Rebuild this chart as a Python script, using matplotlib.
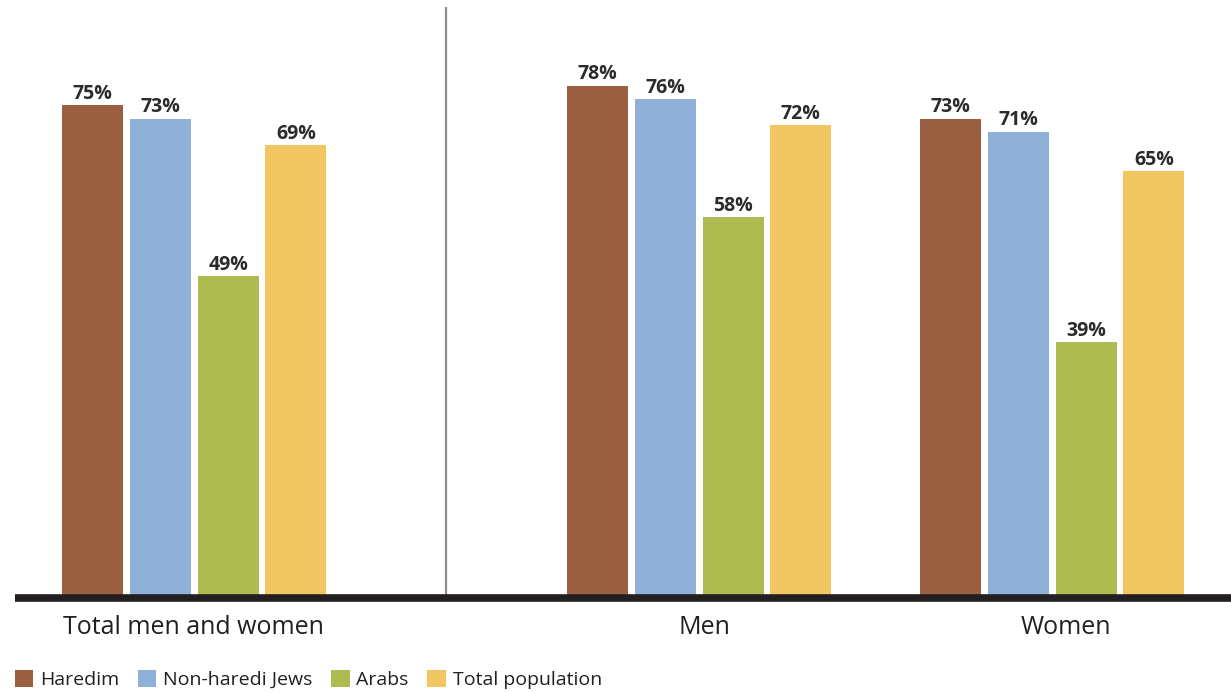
import numpy as np
import matplotlib.pyplot as plt
from matplotlib.patches import Patch

groups = ["Total men and women", "Men", "Women"]
series = ["Haredim", "Non-haredi Jews", "Arabs", "Total population"]
haredim = [75, 78, 73]
non_haredi = [73, 76, 71]
arabs = [49, 58, 39]
total_pop = [69, 72, 65]
colors = ["#9B5F41", "#8FB0D9", "#AEBB50", "#F2C661"]

values = [haredim, non_haredi, arabs, total_pop]

W, H = 1231, 693
fig = plt.figure(figsize=(W / 100, H / 100), dpi=100)
plt.rcParams['font.family'] = ['Open Sans', 'DejaVu Sans']

# axes in pixel-like x units, baseline at y=598
base_y = 598
top_y = 7
ax = fig.add_axes([0, 1 - base_y / H, 1, (base_y - top_y) / H])
ax.set_xlim(0, W)
ax.set_ylim(0, 90)
ax.axis("off")

group_start = [62, 567, 920]
step = 67.8
width = 61
for i, (name, vals, col) in enumerate(zip(series, values, colors)):
    xs = np.array(group_start) + width / 2 + i * step
    ax.bar(xs, vals, width=width, color=col, zorder=2)
    for x, v in zip(xs, vals):
        ax.text(x, v + 0.2, f"{v}%", ha="center", va="bottom",
                fontsize=14, fontweight="bold", color="#2b2b2b")

# baseline and separator
ax.plot([15, W], [0, 0], color="#231f20", lw=5.5, solid_capstyle="butt",
        clip_on=False, zorder=3)
ax.plot([446, 446], [0, 90], color="#8c8c8c", lw=1.6, zorder=1)

label_x = [193, 704, 1066]
for x, g in zip(label_x, groups):
    fig.text(x / W, 1 - 627 / H, g, ha="center", va="center",
             fontsize=18, color="#231f20")

handles = [Patch(facecolor=c, edgecolor="none") for c in colors]
fig.legend(handles, series, loc="lower left", bbox_to_anchor=(15 / W, 4 / H),
           ncol=4, frameon=False, fontsize=14, handlelength=0.95,
           handleheight=0.95, handletextpad=0.35, columnspacing=0.95,
           borderpad=0, borderaxespad=0, labelcolor="#231f20")

fig.savefig("out.png", dpi=100)
